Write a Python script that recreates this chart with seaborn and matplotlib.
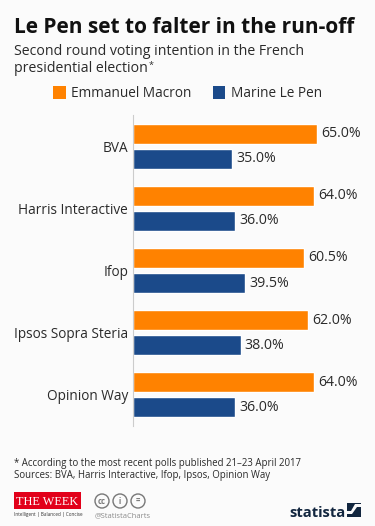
import matplotlib
matplotlib.use('Agg')
import matplotlib.pyplot as plt
from matplotlib.patches import Rectangle, Polygon
import pandas as pd
import seaborn as sns

pollsters = ['BVA', 'Harris Interactive', 'Ifop', 'Ipsos Sopra Steria', 'Opinion Way']
macron = [65.0, 64.0, 60.5, 62.0, 64.0]
le_pen = [35.0, 36.0, 39.5, 38.0, 36.0]
series_names = ['Emmanuel Macron', 'Marine Le Pen']
colors = ['#FF8200', '#1B4A8A']

title = 'Le Pen set to falter in the run-off'
subtitle1 = 'Second round voting intention in the French'
subtitle2 = 'presidential election'
note1 = '* According to the most recent polls published 21\u201323 April 2017'
note2 = 'Sources: BVA, Harris Interactive, Ifop, Ipsos, Opinion Way'

sns.set_theme(style='white')
plt.rcParams['font.family'] = ['Open Sans', 'DejaVu Sans']

W, H = 375, 526
BG = '#FBFBFB'
TXT = '#2A2A2A'

df = pd.DataFrame({'poll': pollsters, series_names[0]: macron, series_names[1]: le_pen})
df = df.melt(id_vars='poll', var_name='who', value_name='pct')

fig = plt.figure(figsize=(W / 100, H / 100), dpi=100, facecolor=BG)
# axes box in pixels: left 133, top 115, bottom 426
ax = fig.add_axes([133 / W, 1 - 426 / H, (W - 133) / W, (426 - 115) / H], facecolor='none')
sns.barplot(data=df, y='poll', x='pct', hue='who', palette=colors, order=pollsters,
            hue_order=series_names, width=0.804, gap=0.2, dodge=True, legend=False, ax=ax,
            saturation=1)
ax.set_xlim(0, 242 / 2.83)
ax.set_ylim(4.5, -0.5)
ax.set_xlabel('')
ax.set_ylabel('')
ax.set_xticks([])
ax.tick_params(axis='y', length=0, pad=3.5, labelsize=9.85, labelcolor=TXT)
for s in ['top', 'right', 'bottom']:
    ax.spines[s].set_visible(False)
ax.spines['left'].set_color('#CCCCCC')
ax.spines['left'].set_linewidth(0.8)

for cont in ax.containers:
    for bar in cont:
        v = bar.get_width()
        ax.text(v + 1.5, bar.get_y() + bar.get_height() / 2, f'{v:.1f}%', va='center', ha='left',
                fontsize=10.2, color=TXT)


def ft(x, y, s, **kw):
    return fig.text(x / W, 1 - y / H, s, **kw)


ft(14, 32.7, title, fontsize=15.0, fontweight='bold', color='#111111', va='baseline')
ft(14, 55, subtitle1, fontsize=10.15, color=TXT, va='baseline')
ft(14, 71.7, subtitle2, fontsize=10.15, color=TXT, va='baseline')
ft(148.5, 67.5, '*', fontsize=6.5, color=TXT, va='baseline')

# legend
for x0, col, lab in [(53, colors[0], series_names[0]), (213, colors[1], series_names[1])]:
    fig.add_artist(Rectangle((x0 / W, 1 - 99 / H), 12.5 / W, 13 / H, transform=fig.transFigure,
                             facecolor=col, edgecolor='none'))
    ft(x0 + 18, 96.7, lab, fontsize=9.8, color=TXT, va='baseline')

ft(14, 466, note1, fontsize=6.9, color=TXT, va='baseline')
ft(14, 478, note2, fontsize=6.9, color=TXT, va='baseline')

# the week logo
fig.add_artist(Rectangle((13.7 / W, 1 - 509.3 / H), 67.3 / W, 17.6 / H, transform=fig.transFigure,
                         facecolor='#E2001A', edgecolor='none'))
ft(47.3, 505, 'THE WEEK', fontsize=8.8, color='white', family='Liberation Serif', ha='center', va='baseline')
ft(14, 516, 'Intelligent | Balanced | Concise', fontsize=3.3, color='#333333', va='baseline')

# cc icons
for cx, sym in [(102, 'cc'), (120, 'i'), (138, '=')]:
    fig.add_artist(plt.Circle((cx, H - 501), 7, transform=None, facecolor='none', edgecolor='#777777', linewidth=1))
    ft(cx, 501, sym, fontsize=5.5, color='#777777', ha='center', va='center', fontweight='bold')
ft(95, 517, '@StatistaCharts', fontsize=5.4, color='#8A8A8A', va='baseline')

# statista logo
ft(289, 516.7, 'statista', fontsize=10.6, fontweight='bold', color='#12263F', va='baseline')
fig.add_artist(Rectangle((347 / W, 1 - 517 / H), 14 / W, 14 / H, transform=fig.transFigure,
                         facecolor='#12263F', edgecolor='none'))
swoosh = [(347, 514), (352, 514), (357, 507), (361, 507), (361, 504), (355, 504), (351, 511), (347, 511)]
fig.add_artist(Polygon([(x, H - y) for x, y in swoosh], transform=None, facecolor=BG, edgecolor='none'))

fig.savefig('out.png', dpi=100, facecolor=BG)
